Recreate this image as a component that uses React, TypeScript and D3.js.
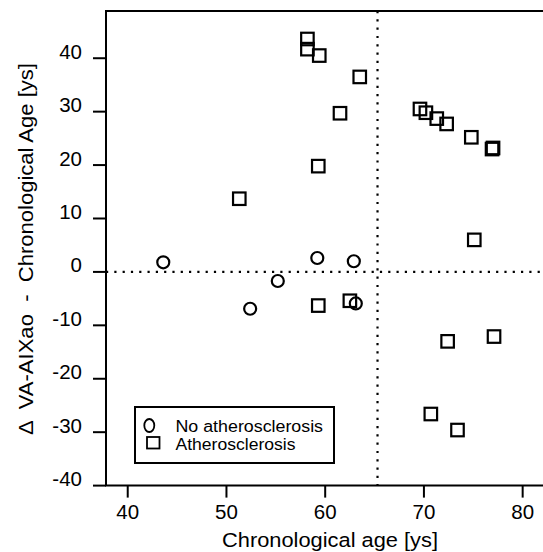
import React from 'react';
import * as d3 from 'd3';

// Circles: no atherosclerosis  [age, delta]
const noAthAge = [43.6, 52.4, 55.2, 59.2, 62.9, 63.1];
const noAthDelta = [1.8, -6.9, -1.7, 2.6, 2.0, -5.9];

// Squares: atherosclerosis
const athAge = [51.3, 58.2, 58.2, 59.4, 63.5, 61.5, 59.3, 59.3, 62.5, 69.6, 70.2, 71.3, 72.3, 74.8, 76.9, 77.0, 75.1, 77.1, 72.4, 70.7, 73.4];
const athDelta = [13.7, 43.6, 41.7, 40.5, 36.5, 29.7, 19.8, -6.3, -5.4, 30.5, 29.8, 28.7, 27.7, 25.2, 23.0, 23.2, 6.0, -12.1, -13.0, -26.6, -29.6];

const xTicks = [40, 50, 60, 70, 80];
const yTicks = [-40, -30, -20, -10, 0, 10, 20, 30, 40];
const cutoffAge = 65.3;

const legendLabels = ['No atherosclerosis', 'Atherosclerosis'];
const xTitle = 'Chronological age [ys]';
const yTitle = 'Δ  VA-AIXao  -  Chronological Age [ys]';

const W = 543;
const H = 552;
const left = 106;
const top = 11;
const bottom = 485.6;
const right = 545;

const font = '"Liberation Sans", Arial, Helvetica, sans-serif';

export default function App() {
  const x = d3.scaleLinear().domain([37.8, 82.06]).range([left, 543]);
  const y = d3.scaleLinear().domain([-40, 48.84]).range([bottom, top]);

  const sq = 12.5;

  return (
    <svg width={W} height={H} style={{ position: 'absolute', left: 0, top: 0, background: '#fff' }}
      fontFamily={font}>
      {/* dotted reference lines */}
      <line x1={left} x2={right} y1={y(0)} y2={y(0)} stroke="#000" strokeWidth={2.2}
        strokeDasharray="2.2,6.1" />
      <line x1={x(cutoffAge)} x2={x(cutoffAge)} y1={top} y2={bottom} stroke="#000" strokeWidth={2.2}
        strokeDasharray="2.2,6.1" />

      {/* frame */}
      <path d={`M${right},${top}H${left}V${bottom}H${right}`} fill="none" stroke="#000" strokeWidth={2} />

      {/* y axis */}
      {yTicks.map(t => (
        <g key={'y' + t}>
          <line x1={left - 13} x2={left} y1={y(t)} y2={y(t)} stroke="#000" strokeWidth={2} />
          <text x={82} y={y(t) + 0.5} textAnchor="end" fontSize={20.5}>{t}</text>
        </g>
      ))}

      {/* x axis */}
      {xTicks.map(t => (
        <g key={'x' + t}>
          <line x1={x(t)} x2={x(t)} y1={bottom} y2={bottom + 12} stroke="#000" strokeWidth={2} />
          <text x={x(t)} y={518.5} textAnchor="middle" fontSize={20.5}>{t}</text>
        </g>
      ))}

      <text x={330} y={546.5} textAnchor="middle" fontSize={20.5}
        textLength={216} lengthAdjust="spacingAndGlyphs">{xTitle}</text>
      <text transform="translate(33,249) rotate(-90)" textAnchor="middle" fontSize={20.5}
        textLength={372} lengthAdjust="spacingAndGlyphs"
        style={{ whiteSpace: 'pre' }}>{yTitle}</text>

      {/* points */}
      {athAge.map((a, i) => (
        <rect key={'s' + i} x={x(a) - sq / 2} y={y(athDelta[i]) - sq / 2} width={sq} height={sq}
          fill="none" stroke="#000" strokeWidth={2.2} />
      ))}
      {noAthAge.map((a, i) => (
        <circle key={'c' + i} cx={x(a)} cy={y(noAthDelta[i])} r={6}
          fill="none" stroke="#000" strokeWidth={2.2} />
      ))}

      {/* legend */}
      <rect x={135} y={407} width={199} height={56} fill="#fff" stroke="#000" strokeWidth={2} />
      <ellipse cx={149.3} cy={425.5} rx={5} ry={6.5} fill="none" stroke="#000" strokeWidth={1.8} />
      <rect x={147} y={437} width={12.5} height={11.5} fill="none" stroke="#000" strokeWidth={1.8} />
      <text x={175.5} y={431.5} fontSize={16}
        textLength={147.5} lengthAdjust="spacingAndGlyphs">{legendLabels[0]}</text>
      <text x={175.5} y={449.5} fontSize={16}
        textLength={120} lengthAdjust="spacingAndGlyphs">{legendLabels[1]}</text>
    </svg>
  );
}
